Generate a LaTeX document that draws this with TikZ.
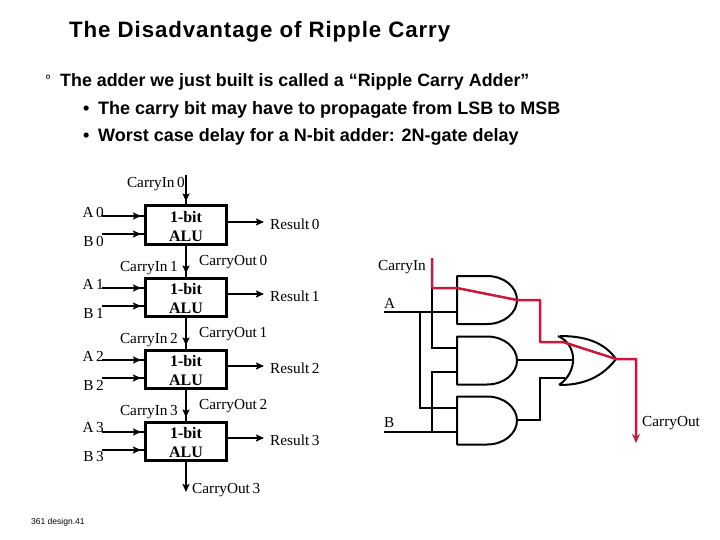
\documentclass[tikz,border=0pt]{standalone}
\usepackage{fontspec}
\setmainfont{Liberation Serif}
\newfontfamily\arialf{Liberation Sans}
\newfontfamily\arialt[LetterSpace=4]{Liberation Sans}
\usetikzlibrary{arrows.meta}
\definecolor{redw}{RGB}{200,25,60}
\tikzset{
 x=1pt,y=-1pt,
 lab/.style={font=\fontsize{15.3}{15}\selectfont,inner sep=0pt,anchor=west},
 sans/.style={font=\arialf\bfseries\fontsize{#1}{#1}\selectfont,inner sep=0pt,anchor=west},
 alu/.style={draw,line width=3pt,minimum width=81pt,minimum height=38pt,inner sep=0pt,align=center,font=\fontsize{16}{19}\selectfont\bfseries},
 wireline/.style={line width=1.8pt},
 wire/.style={line width=1.8pt,shorten >=3pt,-{Stealth[length=8pt,width=7pt,inset=1.5pt]}},
 gatew/.style={line width=1.3pt},
 gate/.style={line width=2pt},
 redwire/.style={draw=redw,line width=2.5pt,line join=round},
}
\begin{document}
\begin{tikzpicture}
\useasboundingbox (0,0) rectangle (720,540);
\fill[white] (0,0) rectangle (720,540);
\node[inner sep=0pt,anchor=west,font=\arialt\bfseries\fontsize{22.3}{23}\selectfont] (title) at (69,32) {The Disadvantage of Ripple Carry};
\node[inner sep=0pt,anchor=west,font=\arialf\fontsize{15}{15}\selectfont] (l0) at (45,80) {°};
\node[sans=17.85] (l1) at (60,82) {The adder we just built is called a “Ripple Carry Adder”};
\node[sans=18] (b2) at (83,110) {•};
\node[sans=18] (l2) at (98,110) {The carry bit may have to propagate from LSB to MSB};
\node[sans=18] (b3) at (83,137) {•};
\node[sans=18] (l3) at (98,137) {Worst case delay for a N-bit adder: 2N-gate delay};
\node[inner sep=0pt,anchor=west,font=\arialf\fontsize{8.5}{9}\selectfont] (foot) at (31,522) {361 design.41};
% ALUs
\foreach \i/\y in {0/225,1/297,2/369,3/441}{
 \node[alu] (alu\i) at (186,\y) {\rule{0pt}{15pt}1-bit\\ALU};
 \coordinate (a\i) at (102,\y-9);
 \coordinate (b\i) at (102,\y+9);
 \coordinate (r\i) at (264,\y-3);
 \draw[wireline] (a\i) -- (a\i -| alu\i.west);
 \draw[wire] (a\i) -- (a\i -| alu\i.west);
 \draw[wireline] (b\i) -- (b\i -| alu\i.west);
 \draw[wire] (b\i) -- (b\i -| alu\i.west);
 \draw[wire,shorten >=0pt] (r\i -| alu\i.east) -- (r\i);
 \node[lab,anchor=east] (la\i) at (104,\y-13) {A\,\i};
 \node[lab,anchor=east] (lb\i) at (104,\y+16) {B\,\i};
 \node[lab] (lr\i) at (270,\y-1) {Result\,\i};
}
\coordinate (cin) at (186,175);
\draw[wireline] (cin) -- (alu0.north);
\draw[wire] (cin) -- (alu0.north);
\draw[wireline] (alu0.south) -- (alu1.north);
\draw[wire] (alu0.south) -- (alu1.north);
\draw[wireline] (alu1.south) -- (alu2.north);
\draw[wire] (alu1.south) -- (alu2.north);
\draw[wireline] (alu2.south) -- (alu3.north);
\draw[wire] (alu2.south) -- (alu3.north);
\coordinate (cout) at (186,492);
\draw[wire,shorten >=0pt] (alu3.south) -- (cout);
\node[lab,anchor=east] (ci0) at (185,184) {CarryIn\,0};
\node[lab,anchor=east] (ci1) at (178,268) {CarryIn\,1};
\node[lab,anchor=east] (ci2) at (178,340) {CarryIn\,2};
\node[lab,anchor=east] (ci3) at (178,412) {CarryIn\,3};
\node[lab] (co0) at (199,262) {CarryOut\,0};
\node[lab] (co1) at (199,334) {CarryOut\,1};
\node[lab] (co2) at (199,406) {CarryOut\,2};
\node[lab] (co3) at (192,490) {CarryOut\,3};
% gates
\foreach \n/\y in {1/300,2/360.5,3/420.5}{
 \coordinate (g\n) at (457,\y);
 \draw[gate,line join=round] (457,\y-24) -- (487,\y-24) .. controls (504,\y-24) and (517,\y-13) .. (517,\y) .. controls (517,\y+13) and (504,\y+24) .. (487,\y+24) -- (457,\y+24) -- cycle;
}
\draw[gate] (558,336) .. controls (578,345) and (578,372) .. (559,385);
\draw[gate] (560,336) .. controls (590,336) and (606,345) .. (616,359) .. controls (606,372) and (590,385) .. (560,385);
% wires
\coordinate (ain) at (384,312);
\coordinate (bin) at (384,432);
\coordinate (ja) at (420,312);
\coordinate (jb) at (432,432);
\coordinate (jc) at (432,288);
\draw[gatew] (ain) -- (457,312);
\draw[gatew] (ja) -- (420,408) -- (457,408);
\draw[gatew] (jc) -- (432,348) -- (457,348);
\draw[gatew] (bin) -- (457,432);
\draw[gatew] (jb) -- (432,372) -- (457,372);
\draw[gatew] (517,360) -- (572,360);
\draw[gatew] (517,420) -- (540,420) -- (540,378) -- (565,378);
\coordinate (rs) at (432,258);
\coordinate (re) at (636,443);
\draw[redwire] (rs) -- (jc) -- (457,288) -- (517,300) -- (540,300) -- (540,342) -- (563,342) -- (616,359) -- (636,359) -- (636,436);
\draw[redw,line width=1.5pt,-{Stealth[length=9pt,width=8pt]}] (636,430) -- (re);
\node[lab] (lc) at (378,267) {CarryIn};
\node[lab] (la) at (384,303) {A};
\node[lab] (lbb) at (384,423) {B};
\node[lab] (lco) at (642,423) {CarryOut};
\end{tikzpicture}
\end{document}
